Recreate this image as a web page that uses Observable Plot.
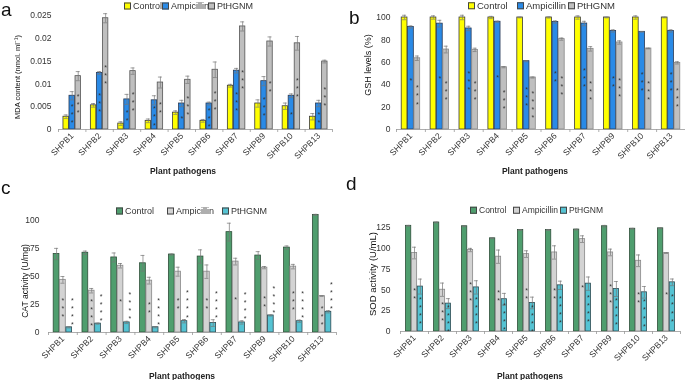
<!DOCTYPE html>
<html><head><meta charset="utf-8">
<script src="https://cdn.jsdelivr.net/npm/d3@7"></script>
<script src="https://cdn.jsdelivr.net/npm/@observablehq/plot@0.6"></script>
<style>
*{-webkit-font-smoothing:antialiased;}
body{margin:0;background:#fff;font-family:"Liberation Sans",Arial,sans-serif;}
#root{position:relative;width:685px;height:380px;overflow:hidden;}
.panel{position:absolute;will-change:transform;}
.letter{position:absolute;font-size:19px;color:#111;line-height:1.2;}
.lg{position:absolute;display:flex;align-items:center;color:#333;white-space:nowrap;line-height:1;transform:translateY(-50%);will-change:transform;}
.lg .sw{display:inline-block;width:5px;height:5px;border:1px solid #444;margin-right:2px;}
.xt{position:absolute;font-weight:bold;font-size:8.5px;color:#222;transform:translate(-50%,-50%);white-space:nowrap;line-height:1;}
.yt{position:absolute;color:#111;transform:translate(-50%,-50%) rotate(-90deg);white-space:nowrap;line-height:1;}
</style></head><body><div id="root"></div>
<script>
const groups = ["SHPB1","SHPB2","SHPB3","SHPB4","SHPB5","SHPB6","SHPB7","SHPB9","SHPB10","SHPB13"];
const seriesNames = ["Control","Ampicillin","PtHGNM"];

// (a) MDA content
const mdaControl    = [0.0028,0.0053,0.0013,0.0019,0.0037,0.0019,0.0096,0.0057,0.0051,0.0028];
const mdaControlErr = [0.0004,0.0004,0.0004,0.0004,0.0004,0.0003,0.0003,0.0008,0.0007,0.0007];
const mdaAmp        = [0.0074,0.0124,0.0066,0.0064,0.0057,0.0057,0.0129,0.0106,0.0074,0.0057];
const mdaAmpErr     = [0.0009,0.0003,0.0011,0.0010,0.0007,0.0003,0.0005,0.0010,0.0004,0.0007];
const mdaPt         = [0.0117,0.0244,0.0128,0.0103,0.0109,0.0131,0.0226,0.0193,0.0189,0.0149];
const mdaPtErr      = [0.0010,0.0010,0.0007,0.0012,0.0008,0.0017,0.0010,0.0010,0.0015,0.0003];
const mdaAmpStars   = [3,3,2,3,1,3,3,3,1,2];
const mdaPtStars    = [3,3,3,2,3,3,3,2,3,3];
const mdaTicks      = [0,0.005,0.01,0.015,0.02,0.025];

// (b) GSH levels
const gshControl    = [100,100,100,100,100,100,100,100,100,100];
const gshControlErr = [2,1.5,2,1,0.3,0.5,1.5,0.3,1.5,0.3];
const gshAmp        = [91.5,94.5,90.2,96.2,61,96,94.6,88,87.2,88];
const gshAmpErr     = [1,3,2,0.5,0.5,1,2,1,0.3,1];
const gshPt         = [63.6,71.4,71.1,55.6,46.4,80.7,72,77.7,72.3,59.5];
const gshPtErr      = [2,3,1.5,0.5,0.5,1,2,1.5,0.3,1];
const gshAmpStars   = [1,1,3,1,3,2,3,2,3,3];
const gshPtStars    = [3,3,3,3,4,3,3,3,3,3];
const gshTicks      = [0,20,40,60,80,100];

// (c) CAT activity
const catControl    = [70.1,71.2,67,61.8,69.6,67.8,89.6,68.7,75.8,105];
const catControlErr = [5,1.5,4,7,0.5,6,8,3.5,1.5,0.5];
const catAmp        = [47,37.3,59.6,46.3,54.3,54.3,63.3,57.9,58.8,32.5];
const catAmpErr     = [3,2,2,3,4,6,3,1,2,0.3];
const catPt         = [4.6,7.9,9,4.7,10.1,8.4,9,15.2,10.1,18.5];
const catPtErr      = [0.5,0.5,1,0.5,1.5,3,1.5,0.5,1,1];
const catAmpStars   = [3,4,1,2,2,2,1,2,3,3];
const catPtStars    = [4,4,4,4,4,4,4,4,4,4];
const catTicks      = [0,25,50,75,100];

// (d) SOD activity
const sodControl    = [127,131,126.5,112,122,122,122.5,126.5,123.5,124];
const sodControlErr = [0.5,0.5,0.5,0.5,0.5,0.5,0.5,1,0.5,0.3];
const sodAmp        = [94.3,50.2,97.9,89.9,93,95,111,95,85,94.2];
const sodAmpErr     = [7,8,2,8,4,8,4,4,7,0.3];
const sodPt         = [54,33.5,53,38.8,34.3,55.5,57.5,51.1,47.1,59.1];
const sodPtErr      = [9,6,8,7,7,5,8,9,7,4];
const sodAmpStars   = [2,3,3,2,2,2,1,3,2,1];
const sodPtStars    = [4,4,4,4,4,4,4,4,4,4];
const sodTicks      = [0,25,50,75,100,125];

const root = document.getElementById("root");

function makePanel(cfg) {
  const {left, top, W, H, mL, mR, mT, mB, yMax, pI, pO, series, yTicks, yFormat, tickPad} = cfg;
  const n = groups.length;
  const step = (W - mL - mR) / (n - pI + 2 * pO);
  const bw = step * (1 - pI);
  const slot = bw / 3;
  const gap = 0.6;
  const ppu = (H - mT - mB) / yMax;
  const marks = [];
  series.forEach((s, i) => {
    const data = groups.map((g, j) => ({g, v: s.values[j], e: s.errs[j], st: s.stars ? s.stars[j] : 0}));
    const inL = i * slot + gap / 2, inR = (2 - i) * slot + gap / 2;
    const off = (i - 1) * slot;
    const cL = i * slot + slot / 2 - 2, cR = bw - (i * slot + slot / 2 + 2);
    marks.push(Plot.barY(data, {x: "g", y: "v", fill: s.fill, stroke: s.stroke, strokeWidth: 0.8, insetLeft: inL, insetRight: inR}));
    marks.push(Plot.ruleX(data, {x: "g", y1: d => d.v - d.e, y2: d => d.v + d.e, dx: off, stroke: "#777", strokeWidth: 0.7}));
    marks.push(Plot.tickY(data, {x: "g", y: d => d.v + d.e, insetLeft: cL, insetRight: cR, stroke: "#777", strokeWidth: 0.7}));
    marks.push(Plot.tickY(data, {x: "g", y: d => d.v - d.e, insetLeft: cL, insetRight: cR, stroke: "#777", strokeWidth: 0.7}));
    if (s.stars) {
      marks.push(Plot.text(data.filter(d => d.st > 0), {
        x: "g",
        y: d => s.starsAbove ? d.v + d.e : d.v * 0.5,
        text: d => Array(d.st).fill("*").join("\n"),
        dx: off + (s.starDx || 0),
        dy: s.starsAbove ? 0 : 2,
        lineAnchor: s.starsAbove ? "bottom" : "middle",
        lineHeight: 1.15, fontSize: 7, fill: "#333"
      }));
    }
  });
  marks.push(Plot.ruleY([0], {stroke: "#999", strokeWidth: 0.8}));
  marks.push(Plot.ruleX(groups, {x: d => d, dx: -step / 2, y1: 0, y2: -3 / ppu, stroke: "#999", strokeWidth: 0.8}));
  marks.push(Plot.ruleX(groups.slice(-1), {x: d => d, dx: step / 2, y1: 0, y2: -3 / ppu, stroke: "#999", strokeWidth: 0.8}));

  const chart = Plot.plot({
    width: W, height: H,
    marginLeft: mL, marginRight: mR, marginTop: mT, marginBottom: mB,
    style: {fontFamily: "'Liberation Sans', Arial, sans-serif", fontSize: "8.5px", color: "#333", background: "transparent", overflow: "visible"},
    x: {domain: groups, paddingInner: pI, paddingOuter: pO, round: false, label: null, tickRotate: -45, tickSize: 0, tickPadding: 5},
    y: {domain: [0, yMax], ticks: yTicks, tickFormat: yFormat, tickSize: 0, tickPadding: tickPad, label: null},
    marks
  });
  const div = document.createElement("div");
  div.className = "panel";
  div.style.left = left + "px";
  div.style.top = top + "px";
  div.appendChild(chart);
  root.appendChild(div);
}

function addText(cls, txt, x, y, size) {
  const d = document.createElement("div");
  d.className = cls;
  d.textContent = txt;
  d.style.left = x + "px";
  d.style.top = y + "px";
  if (size) d.style.fontSize = size + "px";
  root.appendChild(d);
}

function addLegend(xs, y, fills, size) {
  seriesNames.forEach((name, i) => {
    const d = document.createElement("div");
    d.className = "lg";
    d.style.left = xs[i] + "px";
    d.style.top = y + "px";
    d.style.fontSize = size + "px";
    const sw = document.createElement("span");
    sw.className = "sw";
    sw.style.background = fills[i];
    d.appendChild(sw);
    d.appendChild(document.createTextNode(name));
    root.appendChild(d);
  });
}

const YEL = "#ffff00", BLU = "#2a8ae6", GRY = "#bfbfbf";
const GRN = "#4f9e6e", LGR = "#d3d3d3", CYA = "#55c3d3";

makePanel({
  left: 0, top: 0, W: 340, H: 185, mL: 58, mR: 8, mT: 15, mB: 56, yMax: 0.025, pI: 0.34, pO: 0.17,
  yTicks: mdaTicks, yFormat: d => String(d), tickPad: 7,
  series: [
    {values: mdaControl, errs: mdaControlErr, fill: YEL, stroke: "#3a3a3a"},
    {values: mdaAmp, errs: mdaAmpErr, fill: BLU, stroke: "#2a3a55", stars: mdaAmpStars},
    {values: mdaPt, errs: mdaPtErr, fill: GRY, stroke: "#555", stars: mdaPtStars}
  ]
});
makePanel({
  left: 340, top: 0, W: 345, H: 185, mL: 56, mR: 0, mT: 17, mB: 56, yMax: 100, pI: 0.34, pO: 0.17,
  yTicks: gshTicks, tickPad: 6,
  series: [
    {values: gshControl, errs: gshControlErr, fill: YEL, stroke: "#3a3a3a"},
    {values: gshAmp, errs: gshAmpErr, fill: BLU, stroke: "#2a3a55", stars: gshAmpStars},
    {values: gshPt, errs: gshPtErr, fill: GRY, stroke: "#888", stars: gshPtStars}
  ]
});
makePanel({
  left: 0, top: 185, W: 340, H: 195, mL: 48, mR: 4, mT: 35, mB: 48, yMax: 100, pI: 0.34, pO: 0.17,
  yTicks: catTicks, tickPad: 9,
  series: [
    {values: catControl, errs: catControlErr, fill: GRN, stroke: "#2f4f3a"},
    {values: catAmp, errs: catAmpErr, fill: LGR, stroke: "#888", stars: catAmpStars},
    {values: catPt, errs: catPtErr, fill: CYA, stroke: "#2f4a52", stars: catPtStars, starsAbove: true, starDx: 3}
  ]
});
makePanel({
  left: 340, top: 185, W: 345, H: 195, mL: 60, mR: 5, mT: 42, mB: 49, yMax: 125, pI: 0.37, pO: 0.185,
  yTicks: sodTicks, tickPad: 10,
  series: [
    {values: sodControl, errs: sodControlErr, fill: GRN, stroke: "#2f4f3a"},
    {values: sodAmp, errs: sodAmpErr, fill: LGR, stroke: "#888", stars: sodAmpStars},
    {values: sodPt, errs: sodPtErr, fill: CYA, stroke: "#2f4a52", stars: sodPtStars}
  ]
});

addText("letter", "a", 1, -1);
addText("letter", "b", 349, 7);
addText("letter", "c", 1, 177);
addText("letter", "d", 346, 173);

addLegend([124, 162, 208], 6, [YEL, BLU, GRY], 9);
addLegend([468, 517, 568], 6, [YEL, BLU, GRY], 9.5);
addLegend([116, 167, 222], 211, [GRN, LGR, CYA], 9);
addLegend([470, 513, 560], 210, [GRN, LGR, CYA], 8.5);

addText("xt", "Plant pathogens", 183, 171);
addText("xt", "Plant pathogens", 535, 171);
addText("xt", "Plant pathogens", 182, 376);
addText("xt", "Plant pathogens", 530, 376);

addText("yt", "MDA content (nmol. ml\u207B\u00B9)", 18, 77, 7.5);
addText("yt", "GSH levels (%)", 368, 65, 9);
addText("yt", "CAT activity (U/mg)", 25, 281, 8.6);
addText("yt", "SOD activity (U/mL)", 373, 274, 9.5);
</script>
</body></html>
